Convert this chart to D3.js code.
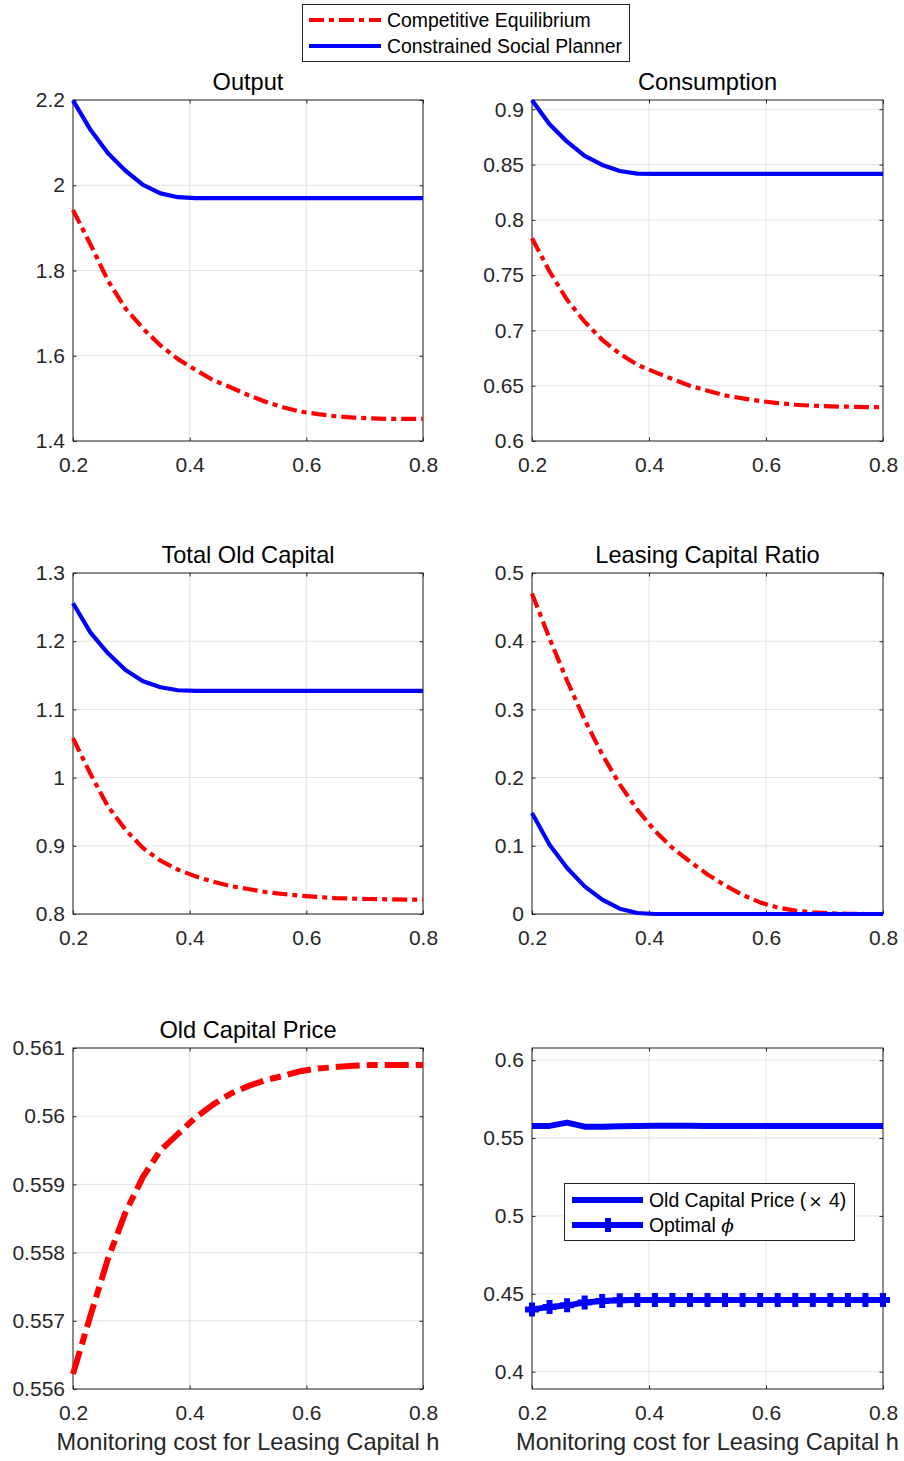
<!DOCTYPE html>
<html><head><meta charset="utf-8">
<script src="https://cdn.jsdelivr.net/npm/d3@7"></script>
<style>body{margin:0;background:#fff;} svg{display:block;font-family:"Liberation Sans",Arial,Helvetica,sans-serif;}</style>
</head><body><svg id="c" width="904" height="1461"></svg>
<script>
// ---------- data ----------
const h = [0.20,0.23,0.26,0.29,0.32,0.35,0.38,0.41,0.44,0.47,0.50,0.53,0.56,0.59,0.62,0.65,0.68,0.71,0.74,0.77,0.80];
const xTicks = [0.2,0.4,0.6,0.8];

const outputCE = [1.942,1.861,1.776,1.711,1.664,1.624,1.592,1.567,1.543,1.526,1.508,1.492,1.479,1.469,1.463,1.458,1.455,1.453,1.452,1.452,1.452];
const outputSP = [2.199,2.130,2.075,2.034,2.001,1.981,1.972,1.970,1.970,1.970,1.970,1.970,1.970,1.970,1.970,1.970,1.970,1.970,1.970,1.970,1.970];
const outputTicks = [1.4,1.6,1.8,2,2.2];

const consumptionCE = [0.7834,0.7533,0.7277,0.7078,0.6915,0.6789,0.6689,0.6623,0.6560,0.6500,0.6455,0.6412,0.6385,0.6361,0.6343,0.6328,0.6319,0.6313,0.6310,0.6307,0.6307];
const consumptionSP = [0.9082,0.8864,0.8707,0.8578,0.8497,0.8442,0.8418,0.8415,0.8415,0.8415,0.8415,0.8415,0.8415,0.8415,0.8415,0.8415,0.8415,0.8415,0.8415,0.8415,0.8415];
const consumptionTicks = [0.6,0.65,0.7,0.75,0.8,0.85,0.9];

const capitalCE = [1.0578,1.0051,0.9577,0.9235,0.8967,0.8781,0.8649,0.8552,0.8474,0.8410,0.8366,0.8322,0.8293,0.8269,0.8249,0.8234,0.8225,0.8220,0.8215,0.8210,0.8210];
const capitalSP = [1.2556,1.2126,1.1823,1.1579,1.1413,1.1325,1.1281,1.1271,1.1271,1.1271,1.1271,1.1271,1.1271,1.1271,1.1271,1.1271,1.1271,1.1271,1.1271,1.1271,1.1271];
const capitalTicks = [0.8,0.9,1,1.1,1.2,1.3];

const leasingCE = [0.470,0.404,0.342,0.285,0.234,0.190,0.153,0.122,0.097,0.077,0.058,0.042,0.028,0.017,0.0095,0.005,0.0025,0.001,0.0004,0,0];
const leasingSP = [0.148,0.1016,0.0674,0.0405,0.021,0.0078,0.0015,0,0,0,0,0,0,0,0,0,0,0,0,0,0];
const leasingTicks = [0,0.1,0.2,0.3,0.4,0.5];

const priceCE = [0.55622,0.55708,0.55791,0.55859,0.55911,0.55950,0.55974,0.55998,0.56017,0.56033,0.56044,0.56053,0.56059,0.56066,0.56070,0.56072,0.56074,0.56075,0.56075,0.56075,0.56075];
const priceTicks = [0.556,0.557,0.558,0.559,0.56,0.561];
const priceTickLabels = ["0.556","0.557","0.558","0.559","0.56","0.561"];

const priceSPx4 = [0.5578,0.5578,0.5599,0.5573,0.5573,0.5576,0.5578,0.5579,0.5579,0.5579,0.5578,0.5578,0.5578,0.5578,0.5578,0.5578,0.5578,0.5578,0.5578,0.5578,0.5578];
const optimalPhi = [0.4400,0.4415,0.4426,0.4444,0.4454,0.4459,0.4460,0.4460,0.4460,0.4460,0.4460,0.4460,0.4460,0.4460,0.4460,0.4460,0.4460,0.4460,0.4460,0.4460,0.4460];
const phiTicks = [0.4,0.45,0.5,0.55,0.6];

const titles = ["Output","Consumption","Total Old Capital","Leasing Capital Ratio","Old Capital Price",""];
const seriesNames = ["Competitive Equilibrium","Constrained Social Planner"];
const xLabel = "Monitoring cost for Leasing Capital h";

// ---------- layout ----------
const RED = "#ff0000", BLUE = "#0000ff", AX = "#262626", GRID = "#e2e2e2";
const cols = [[73,423],[532,883]];
const rows = [[100,441],[573,914],[1048,1389]];
const TICK_FS = 21, TITLE_FS = 23.6, LEG_FS = 19.4;

const panels = [
  {r:0,c:0,title:titles[0],domain:[1.4,2.2],ticks:outputTicks,series:[{v:outputCE,t:"ce"},{v:outputSP,t:"sp"}]},
  {r:0,c:1,title:titles[1],domain:[0.6,0.9084],ticks:consumptionTicks,series:[{v:consumptionCE,t:"ce"},{v:consumptionSP,t:"sp"}]},
  {r:1,c:0,title:titles[2],domain:[0.8,1.3],ticks:capitalTicks,series:[{v:capitalCE,t:"ce"},{v:capitalSP,t:"sp"}]},
  {r:1,c:1,title:titles[3],domain:[0,0.5],ticks:leasingTicks,series:[{v:leasingCE,t:"ce"},{v:leasingSP,t:"sp"}]},
  {r:2,c:0,title:titles[4],domain:[0.556,0.561],ticks:priceTicks,labels:priceTickLabels,xlabel:true,series:[{v:priceCE,t:"ceThick"}]},
  {r:2,c:1,title:titles[5],domain:[0.3889,0.6078],ticks:phiTicks,xlabel:true,series:[{v:priceSPx4,t:"spThick"},{v:optimalPhi,t:"marker"}]}
];

const svg = d3.select("#c");
const styles = {
  ce:{stroke:RED,w:4.2,dash:"15,5,5,5"},
  sp:{stroke:BLUE,w:4.2,dash:null},
  ceThick:{stroke:RED,w:6,dash:"24,7,11,7"},
  spThick:{stroke:BLUE,w:6,dash:null},
  marker:{stroke:BLUE,w:6,dash:null}
};
const plusPath = "M-7,0H7M0,-7V7";

panels.forEach(p => {
  const [x0,x1] = cols[p.c], [y0,y1] = rows[p.r];
  const x = d3.scaleLinear().domain([0.2,0.8]).range([x0,x1]);
  const y = d3.scaleLinear().domain(p.domain).range([y1,y0]);
  const g = svg.append("g");

  // grid
  g.append("g").selectAll("line").data(xTicks).join("line")
    .attr("x1",d=>x(d)).attr("x2",d=>x(d)).attr("y1",y0).attr("y2",y1)
    .attr("stroke",GRID).attr("stroke-width",1);
  g.append("g").selectAll("line").data(p.ticks).join("line")
    .attr("y1",d=>y(d)).attr("y2",d=>y(d)).attr("x1",x0).attr("x2",x1)
    .attr("stroke",GRID).attr("stroke-width",1);

  // axes
  const fmt = d => p.labels ? p.labels[p.ticks.indexOf(d)] : d3.format("~g")(d);
  const ax = [
    g.append("g").attr("transform",`translate(0,${y1})`).call(d3.axisBottom(x).tickValues(xTicks).tickSizeInner(-3.5).tickSizeOuter(0).tickPadding(16).tickFormat(d3.format("~g"))),
    g.append("g").attr("transform",`translate(0,${y0})`).call(d3.axisTop(x).tickValues(xTicks).tickSizeInner(-3.5).tickSizeOuter(0).tickFormat("")),
    g.append("g").attr("transform",`translate(${x0},0)`).call(d3.axisLeft(y).tickValues(p.ticks).tickSizeInner(-3.5).tickSizeOuter(0).tickPadding(8).tickFormat(fmt)),
    g.append("g").attr("transform",`translate(${x1},0)`).call(d3.axisRight(y).tickValues(p.ticks).tickSizeInner(-3.5).tickSizeOuter(0).tickFormat(""))
  ];
  ax.forEach(a => {
    a.select(".domain").remove();
    a.selectAll("line").attr("stroke",AX).attr("stroke-width",1);
    a.selectAll("text").attr("fill",AX).attr("font-size",TICK_FS).attr("font-family","Liberation Sans, Arial, sans-serif");
  });
  g.append("rect").attr("x",x0).attr("y",y0).attr("width",x1-x0).attr("height",y1-y0)
    .attr("fill","none").attr("stroke",AX).attr("stroke-width",1);

  // series
  p.series.forEach(s => {
    const st = styles[s.t];
    const line = d3.line().x((d,i)=>x(h[i])).y(d=>y(d)).curve(d3.curveLinear);
    g.append("path").datum(s.v).attr("d",line).attr("fill","none")
      .attr("stroke",st.stroke).attr("stroke-width",st.w)
      .attr("stroke-dasharray",st.dash).attr("stroke-linejoin","round");
    if (s.t === "marker") {
      g.append("g").selectAll("path").data(s.v).join("path")
        .attr("transform",(d,i)=>`translate(${x(h[i])},${y(d)})`)
        .attr("d",plusPath).attr("stroke",BLUE).attr("stroke-width",6).attr("fill","none");
    }
  });

  // title
  if (p.title) {
    g.append("text").attr("x",(x0+x1)/2).attr("y",y0-10).attr("text-anchor","middle")
      .attr("font-size",TITLE_FS).attr("fill","#000").text(p.title);
  }
  if (p.xlabel) {
    g.append("text").attr("x",(x0+x1)/2).attr("y",1450).attr("text-anchor","middle")
      .attr("font-size",TITLE_FS).attr("fill",AX).text(xLabel);
  }
});

// main legend
const leg = svg.append("g");
leg.append("rect").attr("x",302.5).attr("y",4.5).attr("width",327).attr("height",57)
  .attr("fill","#fff").attr("stroke",AX).attr("stroke-width",1);
[{name:seriesNames[0],st:styles.ce,yy:20},{name:seriesNames[1],st:styles.sp,yy:46}].forEach(e => {
  leg.append("line").attr("x1",309).attr("x2",381).attr("y1",e.yy).attr("y2",e.yy)
    .attr("stroke",e.st.stroke).attr("stroke-width",e.st.w).attr("stroke-dasharray",e.st.dash);
  leg.append("text").attr("x",387).attr("y",e.yy).attr("dy","0.35em")
    .attr("font-size",LEG_FS).attr("fill","#000").text(e.name);
});

// panel 6 legend
const leg2 = svg.append("g");
leg2.append("rect").attr("x",564.5).attr("y",1183.5).attr("width",290).attr("height",57)
  .attr("fill","#fff").attr("stroke",AX).attr("stroke-width",1);
leg2.append("line").attr("x1",572).attr("x2",643).attr("y1",1200).attr("y2",1200)
  .attr("stroke",BLUE).attr("stroke-width",6);
leg2.append("line").attr("x1",572).attr("x2",643).attr("y1",1225).attr("y2",1225)
  .attr("stroke",BLUE).attr("stroke-width",6);
leg2.append("path").attr("transform","translate(608,1225)").attr("d",plusPath)
  .attr("stroke",BLUE).attr("stroke-width",6).attr("fill","none");
const t1 = leg2.append("text").attr("x",649).attr("y",1200).attr("dy","0.35em").attr("font-size",LEG_FS).attr("fill","#000");
t1.append("tspan").text("Old Capital Price (");
t1.append("tspan").attr("font-family","DejaVu Serif, serif").attr("font-size",LEG_FS-2).attr("dx",2).text("×");
t1.append("tspan").attr("dx",6).text("4)");
const t2 = leg2.append("text").attr("x",649).attr("y",1225).attr("dy","0.35em").attr("font-size",LEG_FS).attr("fill","#000");
t2.append("tspan").text("Optimal ");
t2.append("tspan").attr("font-family","DejaVu Serif, serif").attr("font-style","italic").attr("font-size",LEG_FS-1).text("ϕ");
</script></body></html>
